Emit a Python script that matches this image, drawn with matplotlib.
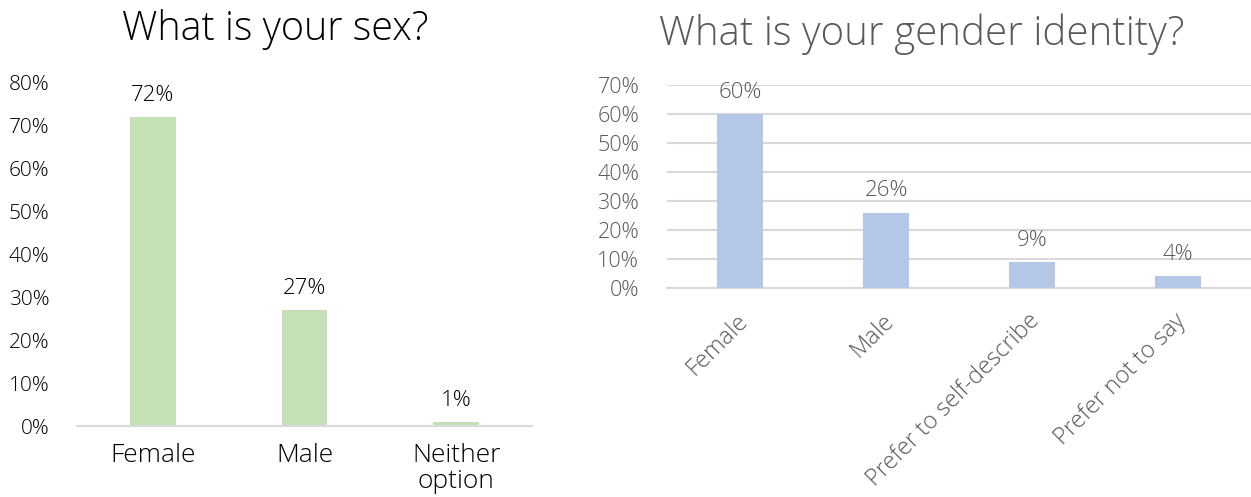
import matplotlib
matplotlib.use("Agg")
import matplotlib.pyplot as plt
from matplotlib.ticker import FuncFormatter, MultipleLocator
from matplotlib.transforms import ScaledTranslation

plt.rcParams["font.family"] = ["Open Sans", "DejaVu Sans"]
plt.rcParams["font.weight"] = "light"

# Sex question
sex_categories = ["Female", "Male", "Neither\noption"]
sex_values = [72, 27, 1]

# Gender identity question
gender_categories = ["Female", "Male", "Prefer to self-describe", "Prefer not to say"]
gender_values = [60, 26, 9, 4]

W, H = 1251, 497
fig = plt.figure(figsize=(W / 100, H / 100), dpi=100)

pct = FuncFormatter(lambda v, _: f"{v:.0f}%")
grid_col = "#D9D9D9"

# ---- left chart ----
ax1 = fig.add_axes([77 / W, (H - 426) / H, 455 / W, 343 / H])
x1 = range(len(sex_categories))
ax1.bar(x1, sex_values, width=0.3, color="#C5E0B4")
ax1.set_xlim(-0.5, len(sex_categories) - 0.5)
ax1.set_ylim(0, 80)
ax1.yaxis.set_major_locator(MultipleLocator(10))
ax1.yaxis.set_major_formatter(pct)
for s in ["top", "right", "left"]:
    ax1.spines[s].set_visible(False)
ax1.spines["bottom"].set_color(grid_col)
ax1.spines["bottom"].set_linewidth(1.5)
ax1.tick_params(axis="y", length=0, labelsize=15, colors="black", pad=20)
ax1.tick_params(axis="x", length=0, labelsize=19, colors="black", pad=12)
ax1.set_xticks(list(x1))
ax1.set_xticklabels(sex_categories, linespacing=1.05)
for xi, v in zip(x1, sex_values):
    ax1.annotate(f"{v}%", (xi, v), xytext=(0, 8), textcoords="offset points",
                 ha="center", va="bottom", fontsize=16, color="black")
fig.text(275 / W, 1 - 29 / H, "What is your sex?", ha="center", va="center",
         fontsize=28.5, color="black")

# ---- right chart ----
grey = "#595959"
ax2 = fig.add_axes([667 / W, (H - 288) / H, 584 / W, 203 / H])
x2 = range(len(gender_categories))
ax2.bar(x2, gender_values, width=0.31, color="#B4C7E7", zorder=3)
ax2.set_xlim(-0.5, len(gender_categories) - 0.5)
ax2.set_ylim(0, 70)
ax2.yaxis.set_major_locator(MultipleLocator(10))
ax2.yaxis.set_major_formatter(pct)
ax2.grid(axis="y", color=grid_col, linewidth=1.5, zorder=0)
for s in ["top", "right", "left"]:
    ax2.spines[s].set_visible(False)
ax2.spines["bottom"].set_color(grid_col)
ax2.spines["bottom"].set_linewidth(1.5)
ax2.tick_params(axis="y", length=0, labelsize=15.5, colors=grey, pad=20)
ax2.tick_params(axis="x", length=0, labelsize=17, colors=grey, pad=15)
ax2.set_xticks(list(x2))
ax2.set_xticklabels(gender_categories, rotation=45, ha="right",
                    rotation_mode="anchor")
shift = ScaledTranslation(-4 / 100, 0, fig.dpi_scale_trans)
for lab in ax2.get_xticklabels():
    lab.set_transform(lab.get_transform() + shift)
for xi, v in zip(x2, gender_values):
    ax2.annotate(f"{v}%", (xi, v), xytext=(0, 8), textcoords="offset points",
                 ha="center", va="bottom", fontsize=16, color=grey)
fig.text(922 / W, 1 - 34 / H, "What is your gender identity?", ha="center",
         va="center", fontsize=29, color=grey)

fig.savefig("out.png", dpi=100)
